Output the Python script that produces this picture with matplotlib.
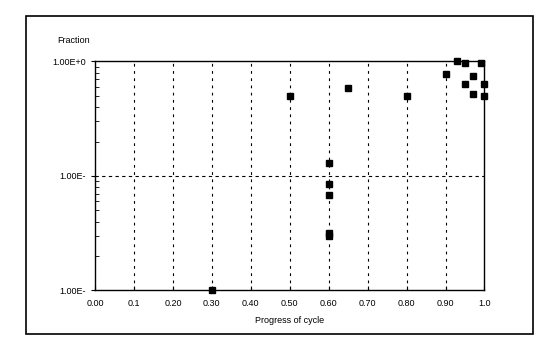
import matplotlib
matplotlib.use("Agg")
import matplotlib.pyplot as plt
from matplotlib.patches import Rectangle
from matplotlib.ticker import NullFormatter

plt.rcParams['font.family'] = ['Liberation Sans', 'DejaVu Sans']

# data
progress = [0.30, 0.50, 0.60, 0.60, 0.60, 0.60, 0.60, 0.65, 0.80,
            0.90, 0.93, 0.95, 0.95, 0.97, 0.97, 0.99, 1.00, 1.00]
fraction = [0.010, 0.50, 0.13, 0.085, 0.068, 0.032, 0.030, 0.59, 0.50,
            0.78, 1.00, 0.98, 0.64, 0.75, 0.52, 0.98, 0.63, 0.50]

x_ticks = [0.0, 0.1, 0.2, 0.3, 0.4, 0.5, 0.6, 0.7, 0.8, 0.9, 1.0]
x_labels = ["0.00", "0.1", "0.20", "0.30", "0.40", "0.50", "0.60",
            "0.70", "0.80", "0.90", "1.0"]
y_ticks = [1.0, 0.1, 0.01]
y_labels = ["1.00E+0", "1.00E-", "1.00E-"]

fig = plt.figure(figsize=(5.54, 3.43), dpi=100)
fig.patches.append(Rectangle((0.047, 0.026), 0.915, 0.927, transform=fig.transFigure,
                             fill=False, edgecolor="black", linewidth=1.2))
ax = fig.add_axes([0.1715, 0.1531, 0.703, 0.6676])

ax.plot(progress, fraction, linestyle="none", marker="s", markersize=4.0,
        color="black", clip_on=False, zorder=3)

ax.set_yscale("log")
ax.set_xlim(0, 1.0)
ax.set_ylim(0.01, 1.0)

# dashed grid lines
for v in x_ticks[1:-1]:
    ax.axvline(v, color="black", linewidth=0.8, linestyle=(0, (2.5, 4)), zorder=0)
ax.axhline(0.1, color="black", linewidth=0.8, linestyle=(0, (3, 3)), zorder=0)

ax.set_xticks(x_ticks)
ax.set_xticklabels(x_labels, fontsize=6.5)
ax.set_yticks(y_ticks)
ax.set_yticklabels(y_labels, fontsize=6.5)
ax.yaxis.set_minor_formatter(NullFormatter())
ax.tick_params(axis="x", direction="in", length=3, width=0.8, pad=6)
ax.tick_params(axis="y", which="major", direction="out", length=3, width=0.8)
ax.tick_params(axis="y", which="minor", direction="in", length=3, width=0.6)

for s in ax.spines.values():
    s.set_linewidth(1.0)

ax.set_xlabel("Progress of cycle", fontsize=6.5, labelpad=6)
fig.text(0.103, 0.883, "Fraction", fontsize=6.5, va="center", ha="left")

fig.savefig("out.png", dpi=100)
